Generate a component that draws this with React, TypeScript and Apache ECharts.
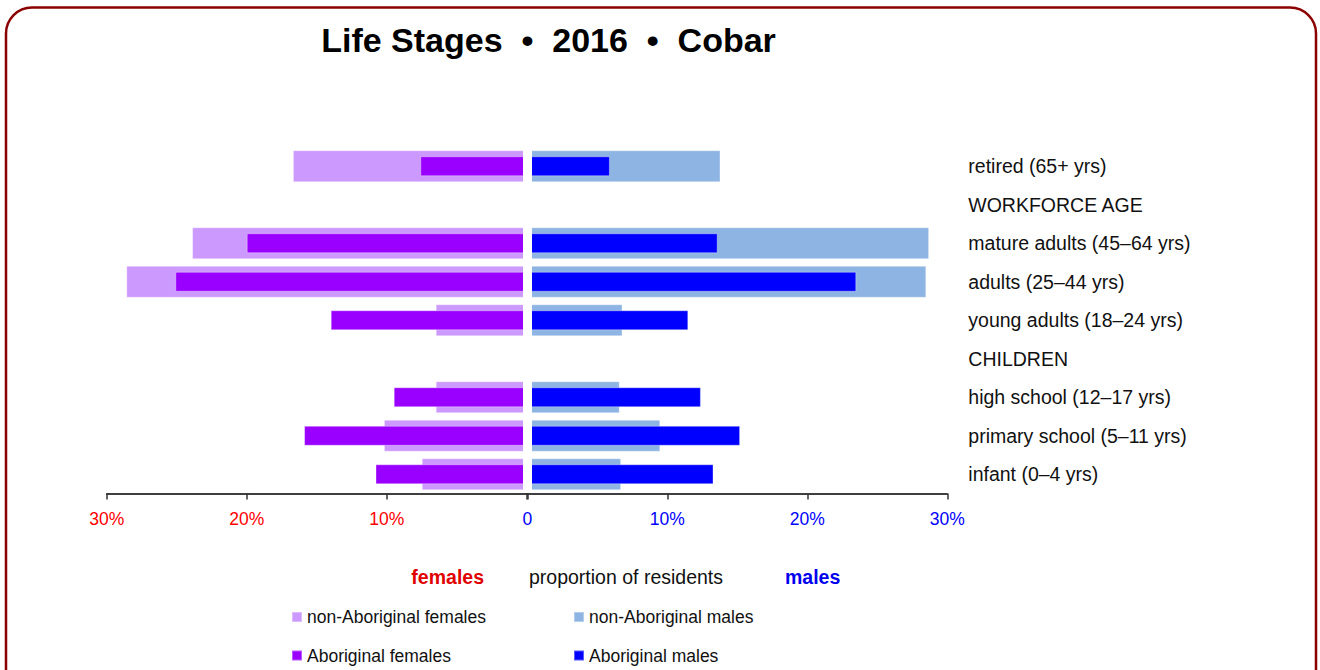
import React, { useEffect, useRef } from 'react';
import * as echarts from 'echarts';

const categories = [
  'retired (65+ yrs)',
  'WORKFORCE AGE',
  'mature adults (45–64 yrs)',
  'adults (25–44 yrs)',
  'young adults (18–24 yrs)',
  'CHILDREN',
  'high school (12–17 yrs)',
  'primary school (5–11 yrs)',
  'infant (0–4 yrs)',
];
const nonAbFemales = [16.7, null, 23.9, 28.6, 6.5, null, 6.5, 10.2, 7.5];
const abFemales = [7.6, null, 20.0, 25.1, 14.0, null, 9.5, 15.9, 10.8];
const nonAbMales = [13.8, null, 28.7, 28.5, 6.8, null, 6.6, 9.5, 6.7];
const abMales = [5.9, null, 13.6, 23.5, 11.5, null, 12.4, 15.2, 13.3];
const xMin = 0;
const xMax = 30;
const xStep = 10;

const FONT = "'Liberation Sans', Arial, sans-serif";

export default function App() {
  const ref = useRef<HTMLDivElement>(null);
  useEffect(() => {
    const chart = echarts.init(ref.current!, null, { renderer: 'svg' });
    const gridTop = 147;
    const gridH = 346.5;
    const xAxisCommon = (gridIndex: number, inverse: boolean, color: string, hideZero: boolean) => ({
      type: 'value',
      gridIndex,
      min: xMin,
      max: xMax,
      interval: xStep,
      inverse,
      splitLine: { show: false },
      axisLine: { show: true, lineStyle: { color: '#000', width: 1.5 } },
      axisTick: { show: true, length: 6, lineStyle: { color: '#333', width: 1.5 } },
      axisLabel: {
        color,
        fontSize: 17.5,
        fontFamily: FONT,
        margin: 16,
        formatter: (v: number) => (v === 0 ? (hideZero ? '' : '0') : v + '%'),
      },
    });
    const yCat = (gridIndex: number, show: boolean) => ({
      type: 'category',
      gridIndex,
      data: categories,
      inverse: true,
      show,
      position: 'right',
      axisLine: { show: false },
      axisTick: { show: false },
      axisLabel: { color: '#111', fontSize: 19.5, fontFamily: FONT, margin: 21 },
    });
    const legendItem = (left: number, top: number, name: string) => ({
      left,
      top,
      orient: 'horizontal',
      icon: 'rect',
      itemWidth: 10,
      itemHeight: 10,
      selectedMode: false,
      padding: 0,
      textStyle: { fontSize: 17.5, color: '#111', fontFamily: FONT, lineHeight: 20 },
      data: [name],
    });
    const barBorder = { borderColor: 'rgba(255,255,255,0.35)', borderWidth: 1 };
    chart.setOption({
      animation: false,
      textStyle: { fontFamily: FONT },
      grid: [
        { left: 106.7, top: gridTop, width: 420, height: gridH },
        { left: 527.3, top: gridTop, width: 420, height: gridH },
      ],
      xAxis: [
        xAxisCommon(0, true, '#ff0000', true),
        xAxisCommon(1, false, '#0000ff', false),
      ],
      yAxis: [yCat(0, false), yCat(0, false), yCat(1, true), yCat(1, false)],
      legend: [
        legendItem(291, 607, 'non-Aboriginal females'),
        legendItem(291, 645.5, 'Aboriginal females'),
        legendItem(573, 607, 'non-Aboriginal males'),
        legendItem(573, 645.5, 'Aboriginal males'),
      ],
      series: [
        {
          name: 'non-Aboriginal females',
          type: 'bar',
          xAxisIndex: 0,
          yAxisIndex: 0,
          data: nonAbFemales,
          barWidth: 32,
          z: 2,
          itemStyle: { color: '#CC99FF', ...barBorder },
        },
        {
          name: 'Aboriginal females',
          type: 'bar',
          xAxisIndex: 0,
          yAxisIndex: 1,
          data: abFemales,
          barWidth: 20,
          z: 3,
          itemStyle: { color: '#9900FF', ...barBorder },
        },
        {
          name: 'non-Aboriginal males',
          type: 'bar',
          xAxisIndex: 1,
          yAxisIndex: 2,
          data: nonAbMales,
          barWidth: 32,
          z: 2,
          itemStyle: { color: '#8EB4E3', ...barBorder },
        },
        {
          name: 'Aboriginal males',
          type: 'bar',
          xAxisIndex: 1,
          yAxisIndex: 3,
          data: abMales,
          barWidth: 20,
          z: 3,
          itemStyle: { color: '#0000FF', ...barBorder },
        },
      ],
      graphic: [
        {
          type: 'rect',
          z: 200,
          shape: { x: 6, y: 7.5, width: 1310, height: 720, r: 26 },
          style: { fill: 'none', stroke: '#8B0000', lineWidth: 2.5 },
          silent: true,
        },
        {
          type: 'rect',
          z: 100,
          shape: { x: 523, y: 140, width: 9, height: 352 },
          style: { fill: '#ffffff' },
          silent: true,
        },
        {
          type: 'text',
          z: 100,
          style: {
            text: 'Life Stages\u00A0\u00A0\u2022\u00A0\u00A02016\u00A0\u00A0\u2022\u00A0\u00A0Cobar',
            x: 548.5,
            y: 40,
            align: 'center',
            verticalAlign: 'middle',
            font: `bold 34px ${FONT}`,
            fill: '#000',
          },
        },
        {
          type: 'text',
          z: 100,
          style: {
            text: 'females',
            x: 484,
            y: 577,
            align: 'right',
            verticalAlign: 'middle',
            font: `bold 19.5px ${FONT}`,
            fill: '#E00000',
          },
        },
        {
          type: 'text',
          z: 100,
          style: {
            text: 'proportion of residents',
            x: 529,
            y: 577,
            align: 'left',
            verticalAlign: 'middle',
            font: `19.5px ${FONT}`,
            fill: '#111',
          },
        },
        {
          type: 'text',
          z: 100,
          style: {
            text: 'males',
            x: 785,
            y: 577,
            align: 'left',
            verticalAlign: 'middle',
            font: `bold 19.5px ${FONT}`,
            fill: '#0000EE',
          },
        },
      ],
    });
    return () => chart.dispose();
  }, []);
  return (
    <div
      ref={ref}
      style={{ position: 'fixed', left: 0, top: 0, width: 1320, height: 670, background: '#fff' }}
    />
  );
}
